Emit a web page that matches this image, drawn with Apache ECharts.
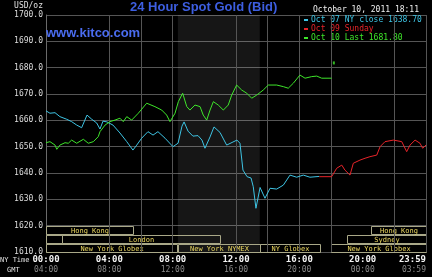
<!DOCTYPE html>
<html><head><meta charset="utf-8">
<script src="https://cdn.jsdelivr.net/npm/echarts@6/dist/echarts.min.js"></script>
<style>html,body{margin:0;padding:0;background:#000;}#c{width:432px;height:277px;}</style>
</head><body><div id="c"></div>
<script>
// Oct 07 (cyan) : [NY hour, USD/oz]
const oct07 = [[0,1663.6],[0.25,1662.7],[0.57,1662.9],[0.88,1661.4],[1.31,1660.4],[1.62,1659.5],[1.94,1658.2],[2.25,1657.2],[2.59,1662.0],[2.89,1660.4],[3.2,1659.0],[3.41,1656.7],[3.6,1659.7],[3.85,1659.4],[4.23,1658.2],[4.67,1655.2],[5.1,1651.9],[5.49,1648.7],[5.73,1650.6],[6.04,1653.2],[6.44,1655.7],[6.76,1654.4],[7.07,1655.7],[7.52,1653.2],[8.02,1650.0],[8.34,1651.3],[8.59,1657.8],[8.72,1659.4],[8.97,1655.9],[9.28,1654.0],[9.6,1654.2],[9.85,1652.5],[10.04,1649.4],[10.36,1653.7],[10.61,1657.5],[10.99,1655.4],[11.41,1650.6],[11.75,1651.6],[12.06,1652.5],[12.25,1651.3],[12.44,1641.1],[12.7,1638.6],[12.95,1638.1],[13.09,1634.8],[13.26,1626.6],[13.52,1634.5],[13.83,1630.4],[14.15,1634.2],[14.57,1633.9],[14.99,1635.4],[15.41,1639.2],[15.83,1638.4],[16.25,1639.2],[16.67,1638.4],[17.26,1638.7]];
// Oct 09 Sunday (red)
const oct09 = [[17.26,1638.6],[18.04,1638.6],[18.36,1641.8],[18.68,1643.0],[18.88,1641.1],[19.2,1639.2],[19.41,1643.7],[19.83,1644.9],[20.15,1645.6],[20.46,1646.2],[20.89,1646.8],[21.1,1650.0],[21.41,1651.9],[21.94,1652.5],[22.47,1651.9],[22.78,1648.1],[22.99,1650.6],[23.31,1652.5],[23.62,1651.3],[23.79,1649.4],[24,1650.6]];
// Oct 10 (green)
const oct10 = [[0,1651.5],[0.25,1651.9],[0.57,1650.6],[0.68,1649.0],[0.88,1650.6],[1.2,1651.5],[1.41,1651.3],[1.62,1652.5],[1.94,1651.3],[2.36,1652.8],[2.67,1651.3],[2.99,1651.9],[3.3,1653.8],[3.41,1655.7],[3.73,1658.2],[4.04,1659.5],[4.36,1660.1],[4.67,1660.8],[4.88,1659.5],[5.1,1661.4],[5.41,1660.1],[5.83,1662.7],[6.36,1666.5],[6.88,1665.2],[7.31,1663.9],[7.62,1662.0],[7.83,1659.5],[8.15,1662.7],[8.36,1667.1],[8.63,1670.3],[8.89,1665.2],[9.09,1663.9],[9.41,1665.8],[9.73,1665.2],[9.93,1662.0],[10.15,1660.1],[10.36,1663.9],[10.57,1667.1],[10.88,1665.8],[11.2,1663.9],[11.51,1665.8],[11.73,1669.6],[12.04,1673.4],[12.36,1671.5],[12.68,1670.3],[12.99,1668.4],[13.31,1669.6],[13.72,1671.5],[14.04,1673.4],[14.15,1672.8],[14.57,1673.4],[14.99,1672.8],[15.3,1672.2],[15.62,1674.1],[16.04,1677.2],[16.36,1676.0],[16.78,1676.6],[17.1,1676.8],[17.41,1676.0],[18.04,1676.0]];
const lastBid = [[18.18,1681.8]];

const nyLabels = ['00:00','04:00','08:00','12:00','16:00','20:00','23:59'];
const gmtLabels = ['04:00','08:00','12:00','16:00','20:00','00:00','03:59'];
const gridHours = [4,6,8,12,14,16,18,22,24];
const nymexHours = [8.33,13.5];

const sessionNames = ['Hong Kong','','London','New York Globex','New York NYMEX','NY Globex','New York Globex','Sydney','Hong Kong'];
const sessionStart = [0,0,1,0,8.33,13.5,18,19,20.5];
const sessionEnd   = [5.5,1,11,8.25,13.5,17.33,24,24,24];
const sessionRow   = [0,1,1,2,2,2,2,1,0];

const seriesNames = ['Oct 07 NY close 1638.70','Oct 09 Sunday','Oct 10 Last 1681.80'];
const seriesColors = ['#3ec4e4','#e8242a','#3ee62a'];

const mono = 'DejaVu Sans Mono';
const chart = echarts.init(document.getElementById('c'), null, {renderer:'canvas'});

const sessionData = sessionNames.map((n,i)=>[sessionStart[i], sessionEnd[i], sessionRow[i], n]);

chart.setOption({
  backgroundColor:'#000',
  animation:false,
  title:[
    {text:'24 Hour Spot Gold (Bid)', left:130, top:1, padding:0,
     textStyle:{color:'#3d5ee0', fontFamily:'Liberation Sans', fontWeight:'bold', fontSize:13}},
    {text:'www.kitco.com', left:46, top:27, padding:0,
     textStyle:{color:'#4a6cf0', fontFamily:'Liberation Sans', fontWeight:'bold', fontSize:13}},
    {text:'October 10, 2011 18:11', left:313, top:6, padding:0,
     textStyle:{color:'#f0f0f0', fontFamily:mono, fontWeight:'normal', fontSize:8}}
  ],
  legend:{
    orient:'vertical', left:304, top:16, padding:0, itemGap:1,
    itemWidth:4, itemHeight:2, icon:'rect', selectedMode:false,
    textStyle:{fontFamily:mono, fontSize:8, lineHeight:8, padding:[0,0,0,-2]},
    data: seriesNames.map((n,i)=>({name:n, textStyle:{color:seriesColors[i]}}))
  },
  graphic:[
    {type:'text', left:0, top:257, style:{text:'NY Time', fill:'#e0e0e0', font:'7px '+mono}},
    {type:'text', left:7, top:267, style:{text:'GMT', fill:'#e0e0e0', font:'7px '+mono}}
  ],
  grid:{left:46, right:6, top:15, bottom:25},
  xAxis:{
    type:'value', min:0, max:24, interval:4,
    axisLine:{show:false}, axisTick:{show:false}, splitLine:{show:false},
    axisLabel:{
      margin:3, alignMaxLabel:'right',
      formatter:(v)=>{const i=Math.round(v/4); return '{a|'+nyLabels[i]+'}\n{b|'+gmtLabels[i]+'}';},
      rich:{a:{color:'#f4f4f4', fontFamily:mono, fontSize:9, fontWeight:'bold', lineHeight:10},
            b:{color:'#8a8a8a', fontFamily:mono, fontSize:8, lineHeight:10}}
    }
  },
  yAxis:{
    type:'value', min:1610, max:1700, interval:10,
    name:'USD/oz', nameLocation:'end', nameGap:5,
    nameTextStyle:{color:'#e0e0e0', fontFamily:mono, fontSize:8, align:'right', padding:[0,3,0,0]},
    axisLine:{show:true, lineStyle:{color:'#6a6a6a', width:1}},
    axisTick:{show:false},
    splitLine:{show:true, lineStyle:{color:'#555555', width:1}},
    axisLabel:{margin:3, color:'#dcdcdc', fontFamily:mono, fontSize:8, formatter:(v)=>v.toFixed(1)}
  },
  series:[
    {type:'line', name:'_bg', data:[], silent:true, z:1,
     markArea:{silent:true, itemStyle:{color:'rgba(255,255,255,0.085)'},
       data:[[{xAxis:nymexHours[0]},{xAxis:nymexHours[1]}]]},
     markLine:{silent:true, symbol:['none','none'], label:{show:false},
       lineStyle:{color:'#555555', type:'solid', width:1},
       data:gridHours.map(h=>({xAxis:h}))}
    },
    {type:'custom', name:'_sessions', silent:true, z:3, data:sessionData,
     renderItem:(params, api)=>{
       const s=api.value(0), e=api.value(1), r=api.value(2);
       const top=1619.9 - r*3.45, bot=top-3.0;
       const p1=api.coord([s, top]), p2=api.coord([e, bot]);
       const x=Math.round(p1[0])+0.5, y=Math.round(p1[1])+0.5;
       const w=Math.round(p2[0])-Math.round(p1[0]), h=Math.round(p2[1])-Math.round(p1[1]);
       const name = sessionNames[params.dataIndex];
       return {type:'group', children:[
         {type:'rect', shape:{x:x, y:y, width:w, height:h},
          style:{fill:'rgba(0,0,0,0)', stroke:'#a9a888', lineWidth:1}},
         {type:'text', x:x+w/2, y:y+h/2+0.5,
          style:{text:name, fill:'#ecd860', font:'7px '+mono, align:'center', verticalAlign:'middle'}}
       ]};
     }},
    {type:'line', name:seriesNames[0], data:oct07, showSymbol:false, z:5,
     itemStyle:{color:seriesColors[0]}, lineStyle:{color:seriesColors[0], width:1}},
    {type:'line', name:seriesNames[1], data:oct09, showSymbol:false, z:5,
     itemStyle:{color:seriesColors[1]}, lineStyle:{color:seriesColors[1], width:1}},
    {type:'line', name:seriesNames[2], data:oct10, showSymbol:false, z:5,
     itemStyle:{color:seriesColors[2]}, lineStyle:{color:seriesColors[2], width:1}},
    {type:'scatter', name:'_last', data:lastBid, symbol:'rect', symbolSize:[2,3], z:6,
     itemStyle:{color:seriesColors[2]}}
  ]
});
</script></body></html>
